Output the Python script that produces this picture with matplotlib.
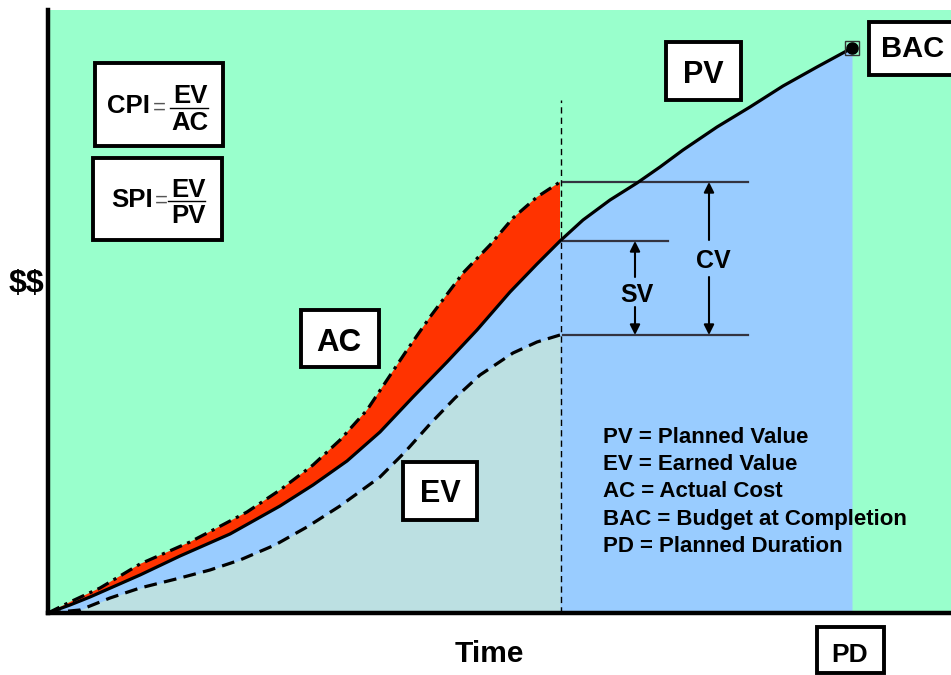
import matplotlib
matplotlib.use("Agg")
import matplotlib.pyplot as plt
from matplotlib.patches import Rectangle

plt.rcParams['font.family'] = ['Liberation Sans', 'DejaVu Sans']
plt.rcParams['font.weight'] = 'bold'

# ---- data (time units, dollar units) ----
pv_t = [0, 22, 42, 92, 132, 182, 232, 265, 299, 332, 365, 399, 429, 462, 489,
        512, 535, 562, 589, 612, 635, 669, 702, 735, 769, 804]
pv_v = [0, 8, 16, 38, 57, 79, 107, 128, 152, 181, 216, 251, 283, 321, 349,
        372, 393, 413, 430, 446, 463, 486, 506, 527, 546, 565]

ac_t = [0, 22, 52, 92, 142, 165, 199, 232, 265, 292, 319, 339, 359, 382, 415,
        442, 465, 489, 512]
ac_v = [0, 11, 25, 49, 71, 83, 101, 123, 148, 173, 203, 233, 263, 296, 340,
        368, 395, 416, 431]

ev_t = [0, 32, 62, 92, 132, 162, 192, 227, 259, 292, 332, 357, 382, 407, 432,
        465, 489, 512]
ev_v = [0, 3, 15, 25, 35, 43, 53, 68, 86, 107, 136, 161, 189, 215, 238,
        260, 271, 278]

status_t = 512
bac_t, bac_v = pv_t[-1], pv_v[-1]
pv_now = pv_v[pv_t.index(status_t)]
ac_now = ac_v[-1]
ev_now = ev_v[-1]

legend_lines = ["PV = Planned Value", "EV = Earned Value", "AC = Actual Cost",
                "BAC = Budget at Completion", "PD = Planned Duration"]

GREEN = '#99FFCC'
BLUE = '#99CCFF'
TEAL = '#BCE0E2'
RED = '#FF3300'

fig = plt.figure(figsize=(9.51, 6.75), dpi=100)
ax = fig.add_axes([48/951, 62/675, 903/951, 603/675])
ax.set_xlim(0, 903)
ax.set_ylim(0, 603)
ax.set_facecolor(GREEN)
for s in ['top', 'right']:
    ax.spines[s].set_visible(False)
for s in ['left', 'bottom']:
    ax.spines[s].set_linewidth(3.2)
    ax.spines[s].set_color('black')
ax.set_xticks([])
ax.set_yticks([])

# fills
ax.fill_between(pv_t, pv_v, 0, color=BLUE, lw=0, zorder=1)
pv_pre_t = [t for t in pv_t if t <= status_t]
pv_pre_v = pv_v[:len(pv_pre_t)]
poly_t = list(ac_t) + pv_pre_t[::-1]
poly_v = list(ac_v) + pv_pre_v[::-1]
ax.fill(poly_t, poly_v, color=RED, lw=0, zorder=2)
ax.fill_between(ev_t, ev_v, 0, color=TEAL, lw=0, zorder=2)

# curves
ax.plot(pv_t, pv_v, color='black', lw=2.3, zorder=5, solid_joinstyle='round')
ax.plot(ac_t, ac_v, color='black', lw=2.3, ls=(0, (4, 1.8, 1, 1.8)), zorder=5)
ax.plot(ev_t, ev_v, color='black', lw=2.3, ls=(0, (4, 2.3)), zorder=5)

# status date line
ax.plot([status_t + 1, status_t + 1], [0, 513], color='black', lw=1.0,
        ls=(0, (4.5, 3)), zorder=4)

# BAC marker
ax.plot([bac_t], [bac_v], marker='s', ms=10.5, mfc='none', mec='#333333', mew=1.0,
        zorder=6, clip_on=False)
ax.plot([bac_t], [bac_v], marker='o', ms=8, color='black', zorder=7, clip_on=False)

# variance lines
lc = '#333340'
ax.plot([515, 700], [ac_now, ac_now], color=lc, lw=1.6, zorder=4)
ax.plot([515, 620], [pv_now, pv_now], color=lc, lw=1.6, zorder=4)
ax.plot([515, 700], [ev_now, ev_now], color=lc, lw=1.6, zorder=4)

def arrow(x, y0, y1):
    ax.annotate('', xy=(x, y1), xytext=(x, y0),
                arrowprops=dict(arrowstyle='-|>', color='black', lw=1.5,
                                mutation_scale=15, shrinkA=0, shrinkB=0), zorder=6)

sv_x, cv_x = 587, 661
arrow(sv_x, 336, pv_now)
arrow(sv_x, 306, ev_now)
arrow(cv_x, 373, ac_now)
arrow(cv_x, 336, ev_now)
ax.text(sv_x + 2, 311, 'SV', ha='center', va='baseline', fontsize=18, zorder=7)
ax.text(cv_x + 4, 345, 'CV', ha='center', va='baseline', fontsize=18, zorder=7)

# boxes
def box(t0, t1, v0, v1):
    ax.add_patch(Rectangle((t0, v0), t1 - t0, v1 - v0, facecolor='white',
                           edgecolor='black', lw=2.8, zorder=8, clip_on=False))

box(47, 175, 467, 550)
box(45, 174, 373, 455)
box(618, 693, 513, 571)
box(821, 915, 538, 591)
box(253, 331, 246, 303)
box(355, 429, 93, 151)
box(769, 836, -60, -14)

ax.text(655, 530, 'PV', ha='center', va='baseline', fontsize=22, zorder=9)
ax.text(865, 556, 'BAC', ha='center', va='baseline', fontsize=21, zorder=9)
ax.text(291, 262, 'AC', ha='center', va='baseline', fontsize=22.5, zorder=9)
ax.text(392, 111, 'EV', ha='center', va='baseline', fontsize=22, zorder=9)
ax.text(802, -49, 'PD', ha='center', va='baseline', fontsize=19, zorder=9, clip_on=False)

# formulas
fs = 18.5
ax.text(80, 500, 'CPI', ha='center', va='baseline', fontsize=fs, zorder=9)
ax.text(111, 505, '=', ha='center', va='center', fontsize=16, fontweight='normal',
        color='#555555', zorder=9)
ax.plot([122, 160], [505, 505], color='black', lw=1.0, zorder=9)
ax.text(142, 510, 'EV', ha='center', va='baseline', fontsize=fs, zorder=9)
ax.text(142, 483, 'AC', ha='center', va='baseline', fontsize=fs, zorder=9)

ax.text(84, 406, 'SPI', ha='center', va='baseline', fontsize=fs, zorder=9)
ax.text(113, 412, '=', ha='center', va='center', fontsize=16, fontweight='normal',
        color='#555555', zorder=9)
ax.plot([120, 157], [412, 412], color='black', lw=1.0, zorder=9)
ax.text(140, 416, 'EV', ha='center', va='baseline', fontsize=fs, zorder=9)
ax.text(140, 390, 'PV', ha='center', va='baseline', fontsize=fs, zorder=9)

# legend text
baselines = [170, 143, 116, 88, 61]
for txt, b in zip(legend_lines, baselines):
    ax.text(555, b, txt, ha='left', va='baseline', fontsize=16, zorder=9)

# axis labels
ax.text(441, -49, 'Time', ha='center', va='baseline', fontsize=21.5, clip_on=False)
ax.text(-22, 321, r'\$\$', ha='center', va='baseline', fontsize=23, clip_on=False)

fig.savefig('out.png', dpi=100, facecolor='white')
